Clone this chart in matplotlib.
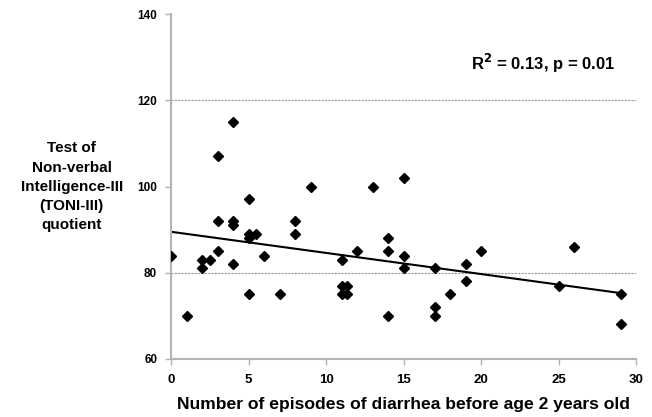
import matplotlib.pyplot as plt

plt.rcParams['font.family'] = ['Liberation Sans', 'DejaVu Sans']

# episodes of diarrhea before age 2 (x) and TONI-III quotient (y)
episodes = [0, 1, 2, 2, 2.5, 3, 3, 3, 4, 4, 4, 4, 5, 5, 5, 5, 5.5, 6, 7,
            8, 8, 9, 11, 11, 11, 11.35, 11.35, 12, 13, 14, 14, 14,
            15, 15, 15, 17, 17, 17, 18, 19, 19, 20, 25, 26, 29, 29]
toni = [84, 70, 83, 81, 83, 107, 92, 85, 115, 92, 91, 82, 97, 89, 88, 75, 89, 84, 75,
        92, 89, 100, 83, 77, 75, 77, 75, 85, 100, 88, 85, 70,
        102, 84, 81, 81, 72, 70, 75, 82, 78, 85, 77, 86, 75, 68]

# linear trend
fit_intercept = 89.5
fit_slope = -0.49
fit_range = [0, 29]

x_ticks = [0, 5, 10, 15, 20, 25, 30]
y_ticks = [60, 80, 100, 120, 140]
grid_levels = [80, 120]

fig = plt.figure(figsize=(6.52, 4.17), dpi=100)
ax = fig.add_axes([0.2623, 0.1391, 0.7132, 0.8273])

for g in grid_levels:
    ax.axhline(g, color='#999999', lw=0.8, ls=(0, (2, 1)), zorder=1)

ax.plot(fit_range, [fit_intercept + fit_slope * x for x in fit_range],
        color='black', lw=1.5, zorder=2)
ax.plot(episodes, toni, ls='none', marker='D', ms=5, color='black', zorder=3)

ax.set_xlim(0, 30)
ax.set_ylim(60, 140)
ax.set_xticks(x_ticks)
ax.set_yticks(y_ticks)
for s in ['top', 'right']:
    ax.spines[s].set_visible(False)
for s in ['left', 'bottom']:
    ax.spines[s].set_color('#b3b3b3')
    ax.spines[s].set_linewidth(1.5)
ax.tick_params(colors='#b3b3b3', length=4, width=1, labelcolor='black')
ax.tick_params(axis='x', labelsize=9.5, pad=7)
ax.tick_params(axis='y', labelsize=8.5, pad=6)
for lab in ax.get_xticklabels() + ax.get_yticklabels():
    lab.set_fontweight('bold')

ax.set_xlabel('Number of episodes of diarrhea before age 2 years old',
              fontsize=12.6, fontweight='bold', labelpad=8)
fig.text(0.11, 0.552, 'Test of\nNon-verbal\nIntelligence-III\n(TONI-III)\nquotient',
         ha='center', va='center', fontsize=11, fontweight='bold', linespacing=1.47)

ax.text(0.80, 0.858, r'R$^\mathbf{2}$ = 0.13, p = 0.01', transform=ax.transAxes,
        ha='center', va='center', fontsize=12, fontweight='bold')

fig.savefig('out.png', dpi=100)
